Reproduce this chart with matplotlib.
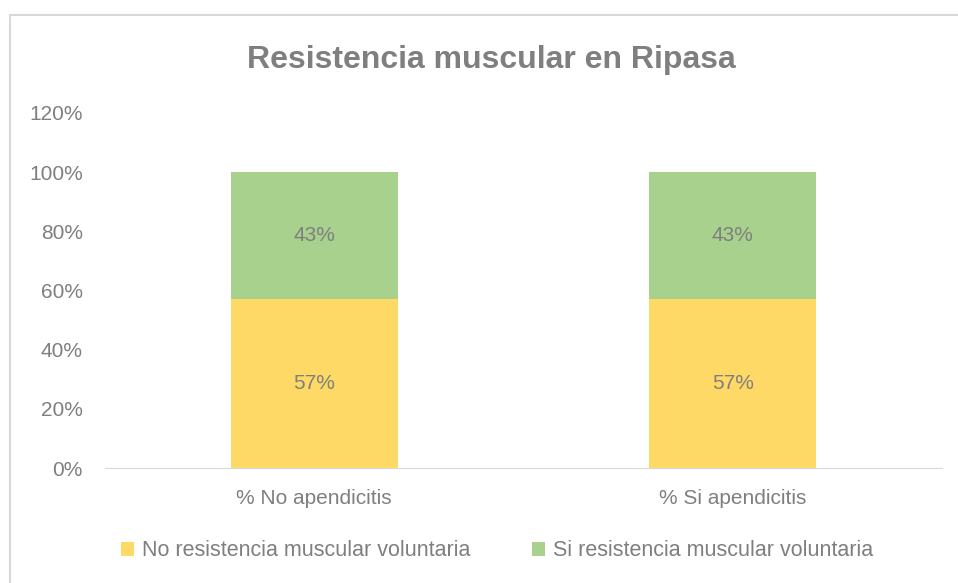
import matplotlib.pyplot as plt
import numpy as np
from matplotlib.patches import Rectangle

categories = ['% No apendicitis', '% Si apendicitis']
no_resist = [0.57, 0.57]
si_resist = [0.43, 0.43]
series_names = ['No resistencia muscular voluntaria', 'Si resistencia muscular voluntaria']

yellow = '#FFD966'
green = '#A9D18E'
grey = '#7F7F7F'
fs = 15

plt.rcParams['font.family'] = ['Liberation Sans', 'DejaVu Sans']

fig = plt.figure(figsize=(9.58, 5.83), dpi=100)
# chart frame
fig.patches.append(Rectangle((10/958, -0.05), 1.1, 1 - 15/583 + 0.05, transform=fig.transFigure,
                             fill=False, edgecolor='#D9D9D9', linewidth=1.5))

ax = fig.add_axes([105/958, 1 - 468/583, (942 - 105)/958, (468 - 113)/583])
x = np.arange(len(categories))
b1 = ax.bar(x, no_resist, width=0.4, color=yellow, label=series_names[0])
b2 = ax.bar(x, si_resist, width=0.4, bottom=no_resist, color=green, label=series_names[1])

for bars, vals, base in [(b1, no_resist, [0, 0]), (b2, si_resist, no_resist)]:
    for r, v, b in zip(bars, vals, base):
        ax.text(r.get_x() + r.get_width()/2, b + v/2, f'{v:.0%}', ha='center', va='center',
                fontsize=fs, color=grey)

ax.set_xlim(-0.5, 1.5)
ax.set_ylim(0, 1.2)
ax.set_yticks(np.arange(0, 1.21, 0.2))
ax.set_yticklabels([f'{int(round(v*100))}%' for v in np.arange(0, 1.21, 0.2)])
ax.set_xticks(x)
ax.set_xticklabels(categories)
ax.tick_params(axis='both', length=0, labelsize=fs, labelcolor=grey)
ax.tick_params(axis='y', pad=16)
ax.tick_params(axis='x', pad=15)
for s in ['top', 'right', 'left']:
    ax.spines[s].set_visible(False)
ax.spines['bottom'].set_color('#D9D9D9')

fig.text(491/958, 1 - 60/583, 'Resistencia muscular en Ripasa', ha='center', va='center',
         fontsize=23, fontweight='bold', color=grey)

fig.legend(handles=[b1, b2], labels=series_names, loc='center', bbox_to_anchor=(497/958, 1 - 551/583),
           ncol=2, frameon=False, fontsize=15.5, labelcolor=grey, handlelength=0.6, handleheight=0.6,
           handletextpad=0.35, columnspacing=2.9)

fig.savefig('out.png', dpi=100)
